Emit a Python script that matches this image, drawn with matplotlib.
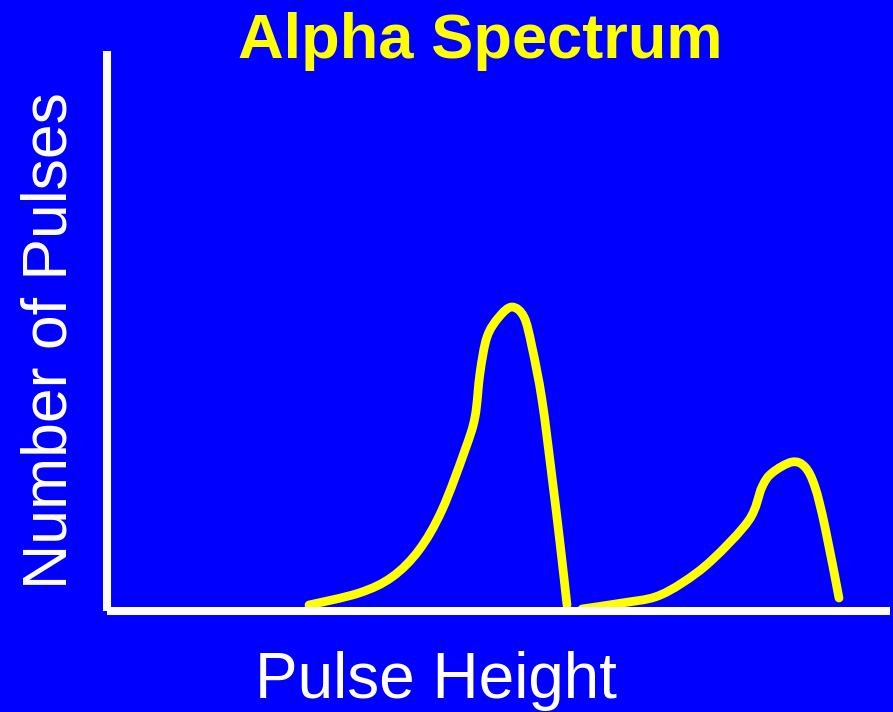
import numpy as np
import matplotlib.pyplot as plt
from matplotlib.path import Path
from matplotlib.patches import PathPatch

# schematic alpha spectrum (arbitrary units)
peak1_x = [201, 251, 284, 311, 334, 357, 367, 372, 379, 391, 404, 416, 424, 434, 444, 452, 459]
peak1_y = [6, 18, 34, 61, 101, 161, 194, 238, 274, 294, 304, 294, 264, 211, 134, 68, 6]
peak2_x = [474, 514, 547, 574, 604, 641, 654, 664, 684, 697, 707, 717, 731]
peak2_y = [2, 8, 14, 28, 51, 91, 124, 138, 149, 144, 124, 84, 13]

blue = "#0000FF"
yellow = "#FFFF00"


def smooth_path(xs, ys):
    # catmull-rom through the points, drawn as cubic bezier segments
    p = np.column_stack([xs, ys]).astype(float)
    verts = [p[0]]
    codes = [Path.MOVETO]
    n = len(p)
    for i in range(n - 1):
        p0 = p[max(i - 1, 0)]
        p1, p2 = p[i], p[i + 1]
        p3 = p[min(i + 2, n - 1)]
        c1 = p1 + (p2 - p0) / 6
        c2 = p2 - (p3 - p1) / 6
        verts += [c1, c2, p2]
        codes += [Path.CURVE4] * 3
    return Path(verts, codes)


W, H = 893, 712
fig = plt.figure(figsize=(W / 100, H / 100), dpi=100, facecolor=blue)
plt.rcParams['font.family'] = ['Liberation Sans', 'DejaVu Sans']

ax = fig.add_axes([107 / W, (H - 611) / H, 783 / W, 560 / H], facecolor=blue)
ax.set_xlim(-1, 782)
ax.set_ylim(0, 560)
for s in ['top', 'right']:
    ax.spines[s].set_visible(False)
for s in ['left', 'bottom']:
    ax.spines[s].set_color('white')
    ax.spines[s].set_linewidth(5.8)
    ax.spines[s].set_capstyle('butt')
ax.set_xticks([])
ax.set_yticks([])

for xs, ys in [(peak1_x, peak1_y), (peak2_x, peak2_y)]:
    ax.add_patch(PathPatch(smooth_path(xs, ys), fill=False, edgecolor=yellow,
                           lw=6.3, joinstyle='round', capstyle='round',
                           clip_on=False))

fig.text(480 / W, (H - 58) / H, "Alpha Spectrum", color=yellow, fontsize=45.5,
         fontweight='bold', ha='center', va='baseline')
fig.text(436 / W, (H - 698) / H, "Pulse Height", color='white', fontsize=46,
         ha='center', va='baseline')
fig.text(67 / W, (H - 341) / H, "Number of Pulses", color='white', fontsize=45,
         rotation=90, rotation_mode='anchor', ha='center', va='baseline')

fig.savefig("out.png", dpi=100, facecolor=blue)
